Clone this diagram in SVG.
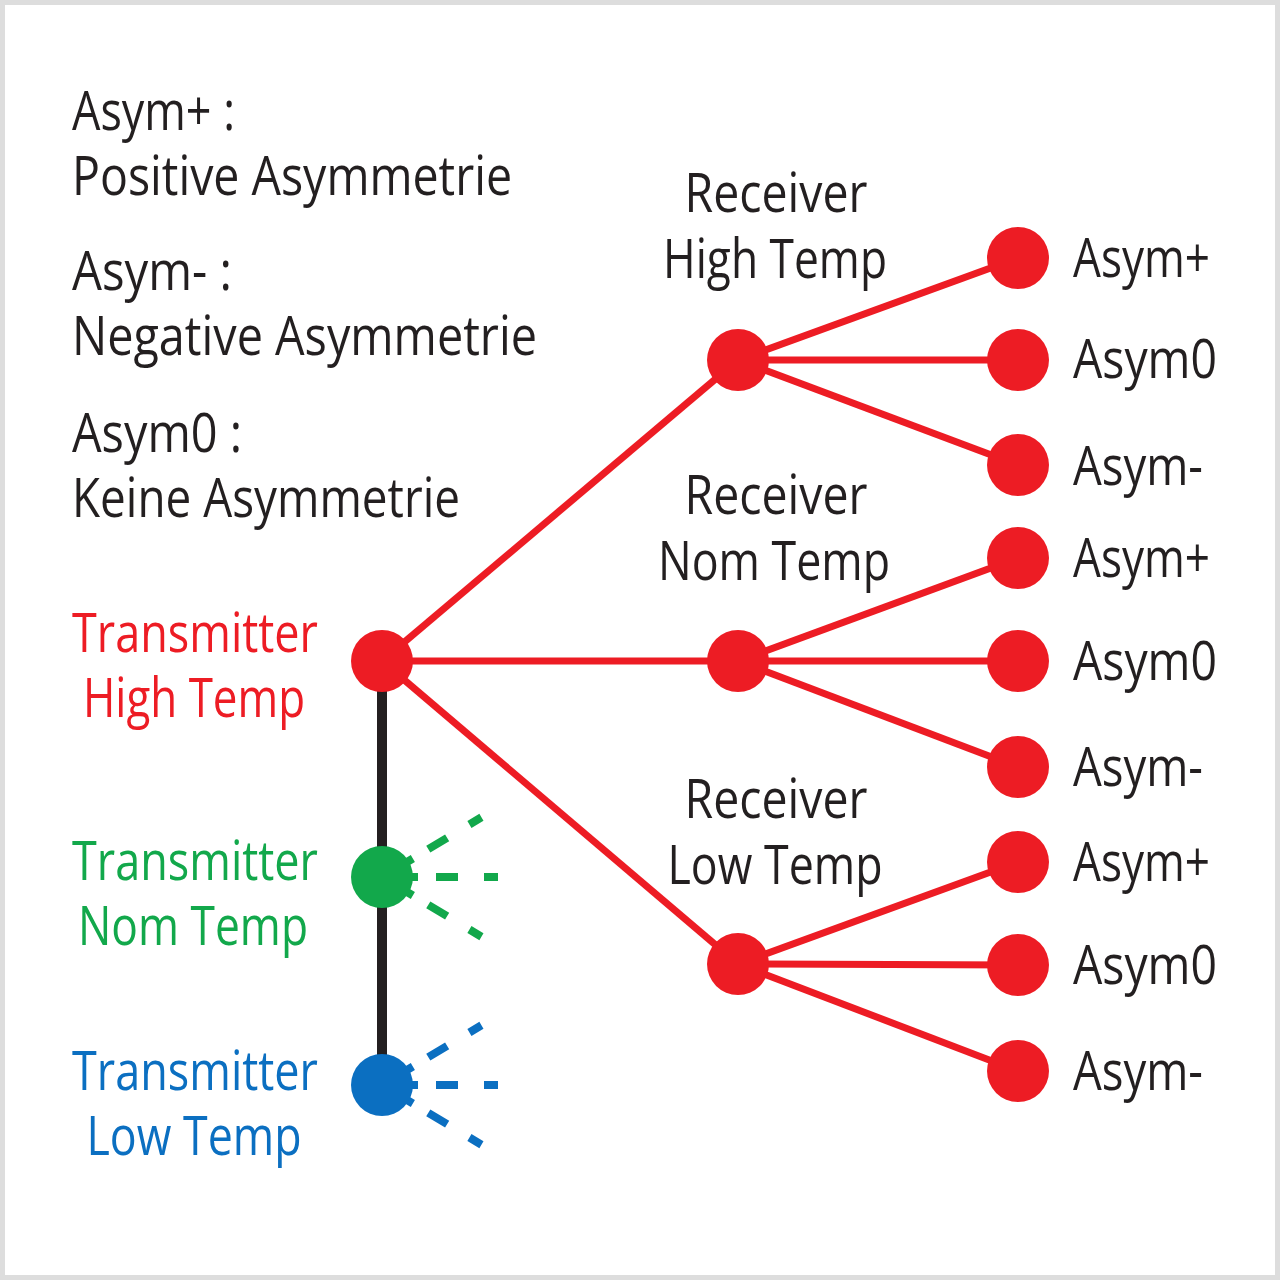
<svg xmlns="http://www.w3.org/2000/svg" width="1280" height="1280" viewBox="0 0 1280 1280">
<style>
text{font-family:"Open Sans","Noto Sans",sans-serif;font-size:54px;fill:#231f20}
.r{fill:#ed1c24}.g{fill:#12a84b}.b{fill:#0b6fc1}
.mid{text-anchor:middle}
.edge{stroke:#ed1c24;stroke-width:7;fill:none}
.ray{stroke-width:8;fill:none}
</style>
<defs>
<path id="rays" d="M0,0H36M54,0H76M102,0H116"/>
</defs>
<rect x="0" y="0" width="1280" height="1280" fill="#ffffff"/>
<rect x="2.5" y="2.5" width="1275" height="1275" fill="none" stroke="#dddddd" stroke-width="5"/>

<g id="legend">
<text x="72" y="130" textLength="163" lengthAdjust="spacingAndGlyphs">Asym+ :</text>
<text x="72" y="195" textLength="440" lengthAdjust="spacingAndGlyphs">Positive Asymmetrie</text>
<text x="72" y="290" textLength="160" lengthAdjust="spacingAndGlyphs">Asym- :</text>
<text x="72" y="355" textLength="465" lengthAdjust="spacingAndGlyphs">Negative Asymmetrie</text>
<text x="72" y="452" textLength="170" lengthAdjust="spacingAndGlyphs">Asym0 :</text>
<text x="72" y="517" textLength="388" lengthAdjust="spacingAndGlyphs">Keine Asymmetrie</text>
</g>

<g id="connectors">
<line x1="382" y1="661" x2="382" y2="1085" stroke="#231f20" stroke-width="10"/>
<line class="edge" x1="382" y1="661" x2="738" y2="360"/>
<line class="edge" x1="382" y1="661" x2="738" y2="661"/>
<line class="edge" x1="382" y1="661" x2="738" y2="964"/>
<line class="edge" x1="738" y1="360" x2="1018" y2="258"/>
<line class="edge" x1="738" y1="360" x2="1018" y2="360"/>
<line class="edge" x1="738" y1="360" x2="1018" y2="465"/>
<line class="edge" x1="738" y1="661" x2="1018" y2="558"/>
<line class="edge" x1="738" y1="661" x2="1018" y2="661"/>
<line class="edge" x1="738" y1="661" x2="1018" y2="767"/>
<line class="edge" x1="738" y1="964" x2="1018" y2="862"/>
<line class="edge" x1="738" y1="964" x2="1018" y2="965"/>
<line class="edge" x1="738" y1="964" x2="1018" y2="1071"/>
<g class="ray" stroke="#12a84b" transform="translate(382,877)">
<use href="#rays" transform="rotate(-31)"/>
<use href="#rays"/>
<use href="#rays" transform="rotate(31)"/>
</g>
<g class="ray" stroke="#0b6fc1" transform="translate(382,1085)">
<use href="#rays" transform="rotate(-31)"/>
<use href="#rays"/>
<use href="#rays" transform="rotate(31)"/>
</g>
</g>

<g id="tx-high">
<circle cx="382" cy="661" r="31" fill="#ed1c24"/>
<text class="r mid" x="195" y="652" textLength="246" lengthAdjust="spacingAndGlyphs">Transmitter</text>
<text class="r mid" x="194" y="717" textLength="222" lengthAdjust="spacingAndGlyphs">High Temp</text>
</g>
<g id="tx-nom">
<circle cx="382" cy="877" r="31" fill="#12a84b"/>
<text class="g mid" x="195" y="880" textLength="246" lengthAdjust="spacingAndGlyphs">Transmitter</text>
<text class="g mid" x="193" y="945" textLength="230" lengthAdjust="spacingAndGlyphs">Nom Temp</text>
</g>
<g id="tx-low">
<circle cx="382" cy="1085" r="31" fill="#0b6fc1"/>
<text class="b mid" x="195" y="1090" textLength="246" lengthAdjust="spacingAndGlyphs">Transmitter</text>
<text class="b mid" x="194" y="1155" textLength="215" lengthAdjust="spacingAndGlyphs">Low Temp</text>
</g>

<g id="rx-high">
<circle cx="738" cy="360" r="31" fill="#ed1c24"/>
<text class="mid" x="776" y="212" textLength="183" lengthAdjust="spacingAndGlyphs">Receiver</text>
<text class="mid" x="775" y="278" textLength="224" lengthAdjust="spacingAndGlyphs">High Temp</text>
</g>
<g id="rx-nom">
<circle cx="738" cy="661" r="31" fill="#ed1c24"/>
<text class="mid" x="776" y="514" textLength="183" lengthAdjust="spacingAndGlyphs">Receiver</text>
<text class="mid" x="774" y="580" textLength="232" lengthAdjust="spacingAndGlyphs">Nom Temp</text>
</g>
<g id="rx-low">
<circle cx="738" cy="964" r="31" fill="#ed1c24"/>
<text class="mid" x="776" y="818" textLength="183" lengthAdjust="spacingAndGlyphs">Receiver</text>
<text class="mid" x="775" y="884" textLength="215" lengthAdjust="spacingAndGlyphs">Low Temp</text>
</g>

<g id="leaf-h1"><circle cx="1018" cy="258" r="31" fill="#ed1c24"/><text x="1073" y="277" textLength="137" lengthAdjust="spacingAndGlyphs">Asym+</text></g>
<g id="leaf-h2"><circle cx="1018" cy="360" r="31" fill="#ed1c24"/><text x="1073" y="378" textLength="144" lengthAdjust="spacingAndGlyphs">Asym0</text></g>
<g id="leaf-h3"><circle cx="1018" cy="465" r="31" fill="#ed1c24"/><text x="1073" y="485" textLength="130" lengthAdjust="spacingAndGlyphs">Asym-</text></g>
<g id="leaf-n1"><circle cx="1018" cy="558" r="31" fill="#ed1c24"/><text x="1073" y="577" textLength="137" lengthAdjust="spacingAndGlyphs">Asym+</text></g>
<g id="leaf-n2"><circle cx="1018" cy="661" r="31" fill="#ed1c24"/><text x="1073" y="680" textLength="144" lengthAdjust="spacingAndGlyphs">Asym0</text></g>
<g id="leaf-n3"><circle cx="1018" cy="767" r="31" fill="#ed1c24"/><text x="1073" y="786" textLength="130" lengthAdjust="spacingAndGlyphs">Asym-</text></g>
<g id="leaf-l1"><circle cx="1018" cy="862" r="31" fill="#ed1c24"/><text x="1073" y="881" textLength="137" lengthAdjust="spacingAndGlyphs">Asym+</text></g>
<g id="leaf-l2"><circle cx="1018" cy="965" r="31" fill="#ed1c24"/><text x="1073" y="984" textLength="144" lengthAdjust="spacingAndGlyphs">Asym0</text></g>
<g id="leaf-l3"><circle cx="1018" cy="1071" r="31" fill="#ed1c24"/><text x="1073" y="1090" textLength="130" lengthAdjust="spacingAndGlyphs">Asym-</text></g>
</svg>
